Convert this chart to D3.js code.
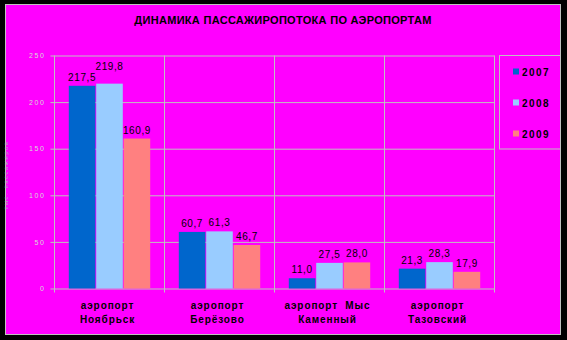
<!DOCTYPE html>
<html>
<head>
<meta charset="utf-8">
<script src="https://cdn.jsdelivr.net/npm/d3@7/dist/d3.min.js"></script>
<style>
  html, body { margin: 0; padding: 0; background: #000; }
  svg { display: block; font-family: Arial, "Liberation Sans", sans-serif; }
</style>
</head>
<body>
<svg id="chart" width="567" height="340"></svg>
<script>
// Passenger traffic by airport, thousands of passengers
const categories = [
  ["аэропорт", "Ноябрьск"],
  ["аэропорт", "Берёзово"],
  ["аэропорт  Мыс", "Каменный"],
  ["аэропорт", "Тазовский"]
];
const years = ["2007", "2008", "2009"];
const values2007 = [217.5, 60.7, 11.0, 21.3];
const values2008 = [219.8, 61.3, 27.5, 28.3];
const values2009 = [160.9, 46.7, 28.0, 17.9];
const yTicks = [0, 50, 100, 150, 200, 250];
const title = "ДИНАМИКА ПАССАЖИРОПОТОКА ПО АЭРОПОРТАМ";
const yTitle = "тыс. пассажиров";

const series = [values2007, values2008, values2009];
const colors = ["#0066CC", "#99CCFF", "#FF8080"];
const grid = "#C0C0C0";

const svg = d3.select("#chart");

// chart area
svg.append("rect").attr("x", 5.5).attr("y", 4.5).attr("width", 555).attr("height", 330)
  .attr("fill", "#FF00FF").attr("stroke", grid).attr("stroke-width", 1);

svg.append("text").attr("x", 283).attr("y", 24).attr("text-anchor", "middle")
  .attr("font-size", 11).attr("font-weight", "bold").attr("letter-spacing", 0.3)
  .attr("fill", "#000").text(title);

const plot = { left: 54.5, right: 494.5, top: 55.5, bottom: 288.5 };

const x = d3.scaleBand().domain(d3.range(categories.length))
  .range([plot.left, plot.right]).padding(0);
const bw = x.bandwidth();
const xi = d3.scaleBand().domain(years).range([bw * 0.13, bw * 0.87]).paddingInner(0.03);
const y = d3.scaleLinear().domain([0, 250]).range([plot.bottom, plot.top]);

// horizontal gridlines with ticks
const yAxis = d3.axisLeft(y).tickValues(yTicks).tickSize(-(plot.right - plot.left)).tickPadding(9)
  .tickFormat(d3.format("d"));
const gy = svg.append("g").attr("transform", `translate(${plot.left},0)`).call(yAxis);
gy.select(".domain").remove();
gy.selectAll(".tick line").attr("stroke", grid).attr("x1", -4);
gy.selectAll(".tick text").attr("fill", "#D8D8D8").attr("font-size", 7)
  .attr("font-family", "Arial, 'Liberation Sans', sans-serif").attr("letter-spacing", 1.6);

// vertical gridlines at category boundaries
const bounds = d3.range(categories.length + 1).map(i => plot.left + i * bw);
svg.append("g").selectAll("line").data(bounds).join("line")
  .attr("x1", d => d).attr("x2", d => d)
  .attr("y1", plot.top).attr("y2", plot.bottom + 4)
  .attr("stroke", grid);

// y-axis title
svg.append("text").attr("transform", "translate(8,175) rotate(-90)")
  .attr("text-anchor", "middle").attr("font-size", 6).attr("fill", "#B0B0B0")
  .attr("letter-spacing", 1.5).text(yTitle);

// bars
const bars = [];
categories.forEach((c, ci) => {
  years.forEach((yr, si) => {
    bars.push({ ci, si, v: series[si][ci] });
  });
});

svg.append("g").selectAll("rect").data(bars).join("rect")
  .attr("x", d => x(d.ci) + xi(years[d.si]))
  .attr("y", d => y(d.v))
  .attr("width", xi.bandwidth())
  .attr("height", d => y(0) - y(d.v))
  .attr("fill", d => colors[d.si]);

// value labels, lifted when they collide with the previous label
const fmt = v => v.toFixed(1).replace(".", ",");
const lg = svg.append("g");
let prev = null;
bars.forEach(d => {
  const cx = x(d.ci) + xi(years[d.si]) + xi.bandwidth() / 2;
  let ty = y(d.v) - 5;
  const t = lg.append("text").attr("x", cx).attr("y", ty).attr("text-anchor", "middle")
    .attr("font-size", 10).attr("letter-spacing", 0.6).attr("fill", "#000").text(fmt(d.v));
  const w = t.node().getComputedTextLength();
  const box = { l: cx - w / 2, r: cx + w / 2, y: ty, ci: d.ci };
  if (prev && prev.ci === d.ci && box.l < prev.r && Math.abs(box.y - prev.y) < 11) {
    box.y = prev.y - 11;
    t.attr("y", box.y);
  }
  prev = box;
});

// category labels
const cg = svg.append("g");
categories.forEach((c, ci) => {
  const cx = x(ci) + bw / 2 - 2;
  c.forEach((line, li) => {
    cg.append("text").attr("x", cx).attr("y", 309 + li * 14).attr("text-anchor", "middle")
      .attr("font-size", 10).attr("font-weight", "bold").attr("letter-spacing", 0.9)
      .attr("fill", "#000").attr("xml:space", "preserve").style("white-space", "pre").text(line);
  });
});

// legend
const leg = svg.append("g");
leg.append("rect").attr("x", 499.5).attr("y", 55.5).attr("width", 61).attr("height", 93.5)
  .attr("fill", "none").attr("stroke", grid);
years.forEach((yr, i) => {
  const cy = 71.5 + i * 31;
  leg.append("rect").attr("x", 513).attr("y", cy - 3).attr("width", 6).attr("height", 6)
    .attr("fill", colors[i]);
  leg.append("text").attr("x", 522).attr("y", cy + 4).attr("font-size", 10)
    .attr("font-weight", "bold").attr("letter-spacing", 1.4).attr("fill", "#000").text(yr);
});
</script>
</body>
</html>
